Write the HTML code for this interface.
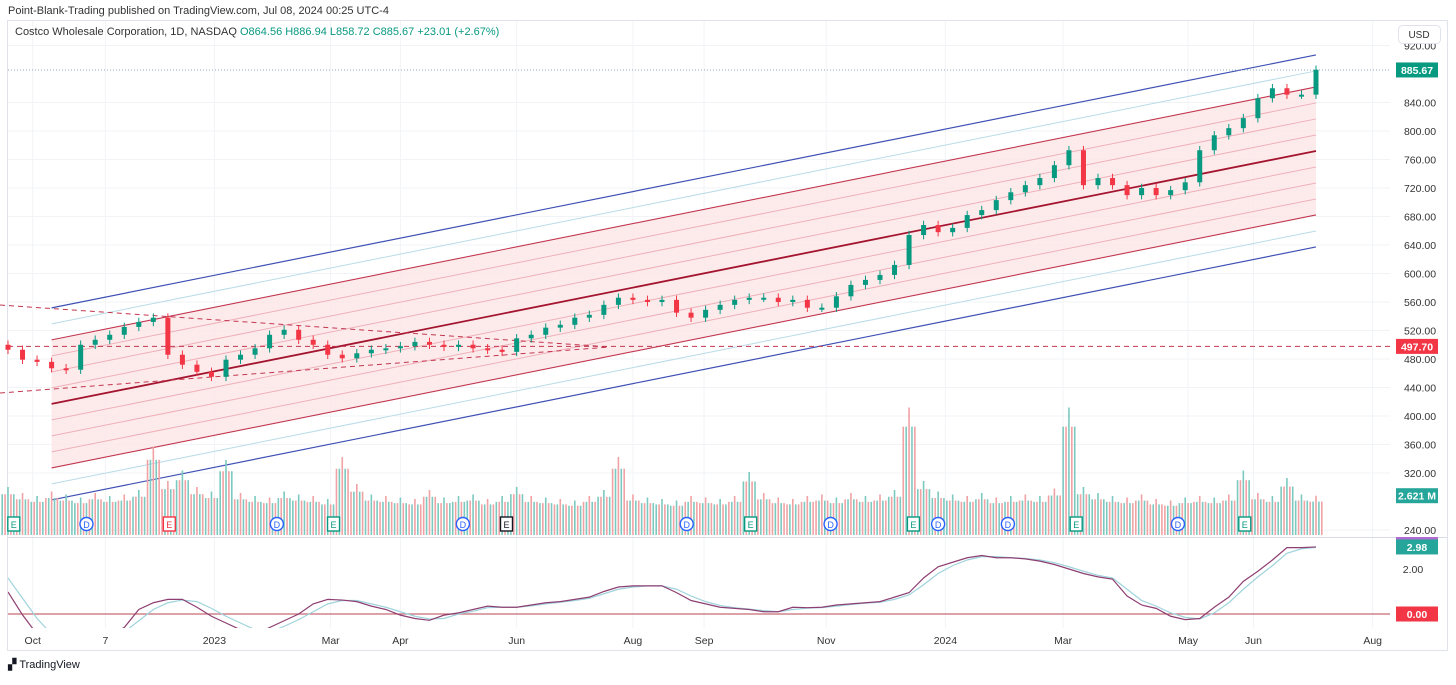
<!DOCTYPE html>
<html><head><meta charset="utf-8"><style>
body{margin:0;background:#fff;font-family:"Liberation Sans",sans-serif;}
svg text{font-family:"Liberation Sans",sans-serif;}
</style></head><body>
<svg id="c" width="1456" height="680" viewBox="0 0 1456 680" xmlns="http://www.w3.org/2000/svg">
<rect x="0" y="0" width="1456" height="680" fill="#fff"/>
<text x="8" y="14" font-size="11" fill="#333">Point-Blank-Trading published on TradingView.com, Jul 08, 2024 00:25 UTC-4</text>
<rect x="7.5" y="20.5" width="1440" height="630" fill="none" stroke="#e0e3eb"/>
<g id="grid"></g>
<g id="channel"></g>
<g id="vol"></g>
<g id="candles"></g>
<g id="events"></g>
<line x1="8" y1="537.5" x2="1447" y2="537.5" stroke="#d8dbe3"/>
<g id="osc"></g>
<g id="axis"></g>
<g id="xaxis"></g>
<text x="15" y="35" font-size="11" fill="#333">Costco Wholesale Corporation, 1D, NASDAQ <tspan fill="#089981">O864.56 H886.94 L858.72 C885.67 +23.01 (+2.67%)</tspan></text>
<rect x="1398.5" y="25.5" width="42" height="18" rx="4" fill="#fff" stroke="#e0e3eb"/>
<text x="1419" y="38" font-size="10" fill="#333" text-anchor="middle">USD</text>
<text x="8" y="668" font-size="11" fill="#131722">▞ TradingView</text>
</svg>
<script>
const closes=[493,479,476,467,465,500,507,514,525,532,538,486,472,462,455,479,486,495,514,521,507,500,486,481,488,493,495,498,504,500,497,500,495,493,490,509,514,524,528,538,542,556,566,563,560,563,545,538,549,556,563,566,566,560,563,552,552,568,584,591,598,612,654,668,658,664,682,689,703,714,724,734,752,773,724,734,724,710,720,710,717,728,773,794,804,818,846,860,851,851,886];
const volumes=[3.2,2.8,2.6,2.9,2.7,2.5,2.8,2.6,2.7,3.0,5.9,3.6,4.3,3.2,2.9,5.0,2.8,2.6,2.5,2.9,2.7,2.6,2.4,5.2,3.4,2.7,2.6,2.5,2.4,3.0,2.5,2.6,2.7,2.4,2.6,3.2,2.6,2.5,2.4,2.3,2.6,3.0,5.2,2.7,2.5,2.4,2.3,2.6,2.5,2.4,2.6,4.2,2.8,2.5,2.4,2.6,2.7,2.5,2.8,2.6,2.7,3.0,8.5,3.6,2.9,2.7,2.6,2.8,2.5,2.6,2.7,2.6,3.1,8.5,3.2,2.8,2.6,2.5,2.7,2.4,2.3,2.5,2.6,2.5,2.7,4.3,2.8,2.6,3.8,2.7,2.62];
const oscMain=[0.98,-0.04,-0.9,-1.4,-1.5,-1.4,-1.2,-0.9,-0.6,0.2,0.5,0.65,0.65,0.3,-0.1,-0.4,-0.7,-0.9,-0.6,-0.3,0.0,0.45,0.65,0.62,0.55,0.35,0.2,-0.05,-0.2,-0.28,-0.05,0.05,0.2,0.35,0.3,0.3,0.4,0.5,0.55,0.65,0.75,1.0,1.2,1.25,1.25,1.25,0.95,0.6,0.45,0.3,0.25,0.2,0.1,0.1,0.3,0.28,0.3,0.4,0.45,0.5,0.55,0.75,0.95,1.6,2.1,2.3,2.5,2.6,2.5,2.5,2.45,2.35,2.2,2.0,1.8,1.65,1.55,0.8,0.4,0.25,-0.1,-0.25,-0.2,0.3,0.75,1.45,1.9,2.4,2.95,2.95,2.98];
const oscSignal=[1.6,0.7,-0.2,-0.9,-1.3,-1.45,-1.35,-1.1,-0.8,-0.3,0.2,0.5,0.62,0.55,0.25,-0.1,-0.4,-0.7,-0.8,-0.55,-0.25,0.1,0.45,0.6,0.6,0.45,0.3,0.1,-0.1,-0.22,-0.2,0.0,0.12,0.28,0.3,0.3,0.36,0.45,0.52,0.6,0.7,0.9,1.1,1.2,1.25,1.25,1.1,0.8,0.55,0.38,0.28,0.22,0.15,0.1,0.2,0.26,0.28,0.35,0.42,0.48,0.52,0.65,0.85,1.3,1.8,2.15,2.4,2.55,2.55,2.5,2.47,2.4,2.28,2.1,1.9,1.72,1.6,1.1,0.6,0.35,0.05,-0.15,-0.22,0.05,0.5,1.1,1.65,2.15,2.7,2.9,2.96];
const priceTicks=[920,840,800,760,720,680,640,600,560,520,480,440,400,360,320,240];
const monthLabels=["Oct","7","2023","Mar","Apr","Jun","Aug","Sep","Nov","2024","Mar","May","Jun","Aug"];
const monthWeeks=[1.7,6.7,14.2,22.2,27.0,35.0,43.0,47.9,56.3,64.5,72.6,81.2,85.7,93.9];
const eventTypes=["E","D","E","D","E","D","E","D","E","D","E","D","D","E","D","E"];
const eventWeeks=[0.4,5.4,11.1,18.5,22.4,31.3,34.3,46.7,51.1,56.6,62.3,64.0,68.8,73.5,80.5,85.1];
const eventColors=["#089981","#2962ff","#f23645","#2962ff","#089981","#2962ff","#131722","#2962ff","#089981","#2962ff","#089981","#2962ff","#2962ff","#089981","#2962ff","#089981"];
const lastPrice=885.67, hLine=497.70;
const chanCenterStart=417, chanCenterEnd=772, chanStep=22.46;

const NS="http://www.w3.org/2000/svg";
const X0=8, STEP=(1316-8)/90;
const xw=i=>X0+i*STEP;
const yp=p=>359-(p-480)*0.7125;
const yv=v=>535-v*15;
const yo=v=>614-v*22.5;
function mk(tag,attrs,parent){const e=document.createElementNS(NS,tag);for(const k in attrs)e.setAttribute(k,attrs[k]);parent.appendChild(e);return e;}
const G=id=>document.getElementById(id);

priceTicks.forEach(p=>{const l=mk('line',{x1:8,x2:1390,y1:yp(p),y2:yp(p),stroke:'#f2f3f7'},G('grid'));

});
monthWeeks.forEach(w=>{const l=mk('line',{x1:xw(w),x2:xw(w),y1:21,y2:628,stroke:'#f2f3f7'},G('grid'));

});

const xa=xw(3), xb=xw(90);
const off=k=>k*chanStep;
const poly=[[xa,yp(chanCenterStart+off(4))],[xb,yp(chanCenterEnd+off(4))],[xb,yp(chanCenterEnd-off(4))],[xa,yp(chanCenterStart-off(4))]];
const fill=mk('polygon',{points:poly.map(p=>p.join(',')).join(' '),fill:'#fce4e6',opacity:0.75},G('channel'));


for(let k=-6;k<=6;k++){
  let col,w;
  if(Math.abs(k)==6){col='#3f51b5';w=1.2}else if(Math.abs(k)==5){col='#b9dbe8';w=1}else if(k==0){col='#a3152f';w=1.8}else if(Math.abs(k)==4){col='#c2364f';w=1.1}else{col='#eeb0b8';w=1}
  const l=mk('line',{x1:xa,y1:yp(chanCenterStart+off(k)),x2:xb,y2:yp(chanCenterEnd+off(k)),stroke:col,'stroke-width':w},G('channel'));
  
  
}
[[305,347],[393,347]].forEach(d=>{const l=mk('line',{x1:0,y1:d[0],x2:610,y2:d[1],stroke:'#c2364f','stroke-dasharray':'5,4','stroke-width':1},G('channel'));

});
const hl=mk('line',{x1:8,y1:yp(hLine),x2:1390,y2:yp(hLine),stroke:'#c2364f','stroke-dasharray':'5,4'},G('channel'));


const lp=mk('line',{x1:8,y1:yp(lastPrice),x2:1390,y2:yp(lastPrice),stroke:'#8fa8b8','stroke-dasharray':'1,2'},G('channel'));



closes.forEach((c,i)=>{
  const o=i?closes[i-1]:500, up=c>=o, col=up?'#089981':'#f23645';
  const x=xw(i);
  for(let s=-2;s<=2;s++){
    const v=volumes[i]*(s==0?1:0.85);
    const r=mk('rect',{x:x+s*2.9-0.8,y:yv(v),width:1.6,height:535-yv(v),fill:((s+i)%2?up:!up)?'#7cc9bf':'#f0a2a4'},G('vol'));
    
    
  }
  const hi=Math.max(o,c)+6, lo=Math.min(o,c)-6;
  const w=mk('line',{x1:x,x2:x,y1:yp(hi),y2:yp(lo),stroke:col},G('candles'));
  
  
  const b=mk('rect',{x:x-2.5,y:yp(Math.max(o,c)),width:5,height:Math.max(2,Math.abs(yp(o)-yp(c))),fill:col},G('candles'));
  
  
});

eventTypes.forEach((t,i)=>{
  const x=xw(eventWeeks[i]), col=eventColors[i];
  const g=mk('g',{},G('events'));
  
  
  if(t=='D')mk('circle',{cx:x,cy:524,r:6.5,fill:'#fff',stroke:col,'stroke-width':1.4},g);
  else mk('rect',{x:x-6,y:517,width:12,height:14,fill:'#fff',stroke:col,'stroke-width':1.4},g);
  const tx=mk('text',{x:x,y:528,'font-size':9,'text-anchor':'middle',fill:col},g);tx.textContent=t;
});

const cp=mk('clipPath',{id:'oc'},G('osc'));mk('rect',{x:8,y:538,width:1382,height:90},cp);
const og=mk('g',{'clip-path':'url(#oc)'},G('osc'));
const zl=mk('line',{x1:8,x2:1390,y1:yo(0),y2:yo(0),stroke:'#c76a74','stroke-width':1.3},og);


[[oscSignal,'#9fd3dc','signal-line'],[oscMain,'#8e3f72','oscillator-line']].forEach(([arr,col,name])=>{
  const p=mk('polyline',{points:arr.map((v,i)=>xw(i)+','+yo(v)).join(' '),fill:'none',stroke:col,'stroke-width':1.2},og);
  
  
});

priceTicks.forEach(p=>{const t=mk('text',{x:1420,y:yp(p)+4,'font-size':10.5,'text-anchor':'middle',fill:'#333'},G('axis'));t.textContent=p.toFixed(2);

});
const ot=mk('text',{x:1413,y:yo(2)+4,'font-size':10.5,'text-anchor':'middle',fill:'#333'},G('axis'));ot.textContent='2.00';


function tag(y,txt,col,name){const g=mk('g',{},G('axis'));


mk('rect',{x:1396,y:y-7.5,width:42,height:15,fill:col},g);
const t=mk('text',{x:1417,y:y+4,'font-size':10.5,'text-anchor':'middle',fill:'#fff','font-weight':'bold'},g);t.textContent=txt;}
tag(yp(lastPrice),lastPrice.toFixed(2),'#089981','last-price-tag');
tag(yp(hLine),hLine.toFixed(2),'#f23645','level-tag');
tag(yv(volumes[volumes.length-1]),'2.621 M','#26a69a','volume-tag');
mk('rect',{x:1396,y:537,width:42,height:4,fill:'#b36ad3'},G('axis'));
tag(yo(oscMain[oscMain.length-1]),oscMain[oscMain.length-1].toFixed(2),'#26a69a','osc-tag');
tag(yo(0),'0.00','#f23645','zero-tag');

monthLabels.forEach((m,i)=>{const t=mk('text',{x:xw(monthWeeks[i]),y:644,'font-size':10.5,'text-anchor':'middle',fill:'#333'},G('xaxis'));t.textContent=m;

});
</script>
</body></html>
